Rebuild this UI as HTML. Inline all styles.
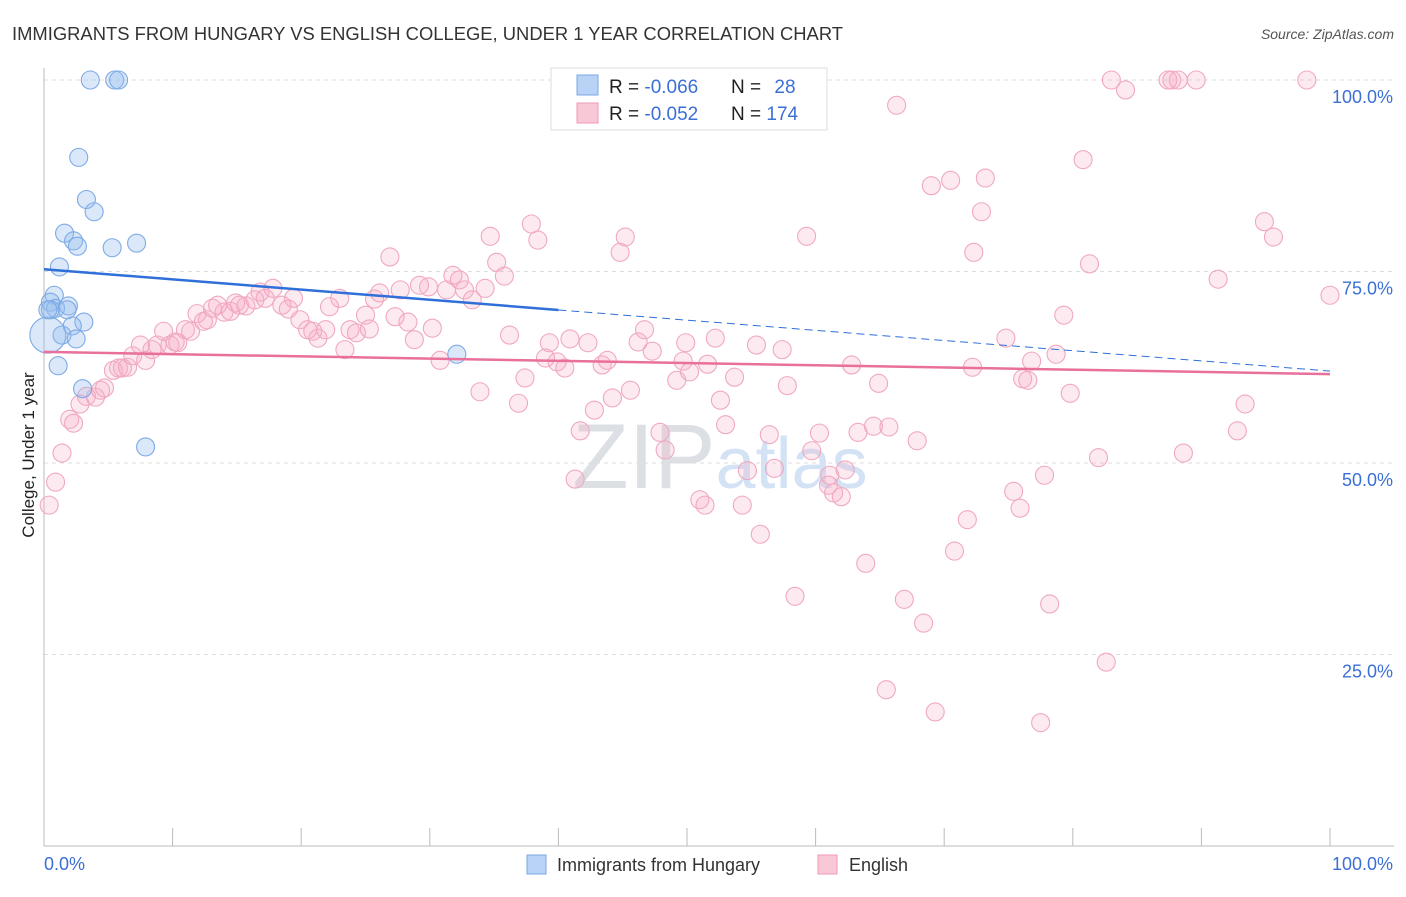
<!DOCTYPE html>
<html><head><meta charset="utf-8"><style>
body{margin:0;background:#fff;font-family:"Liberation Sans",sans-serif}
svg text{font-family:"Liberation Sans",sans-serif}
</style></head><body>
<svg id="chart" width="1406" height="892" xmlns="http://www.w3.org/2000/svg">
<text x="12" y="40" font-size="18" textLength="831" lengthAdjust="spacingAndGlyphs" fill="#333">IMMIGRANTS FROM HUNGARY VS ENGLISH COLLEGE, UNDER 1 YEAR CORRELATION CHART</text>
<text x="1394" y="39" font-size="14" fill="#555" text-anchor="end" font-style="italic">Source: ZipAtlas.com</text>
<text x="720" y="488" font-size="92" fill="#dfe3ea" text-anchor="middle" font-family="Liberation Serif"><tspan fill="#dcdfe4">ZIP</tspan><tspan font-family="Liberation Sans" font-size="72" fill="#d3e3f5">atlas</tspan></text>
<g id="grid"></g>
<g id="axes"></g>
<g id="pink"></g>
<g id="blue"></g>
<g id="trends"></g>
<text transform="translate(34,455) rotate(-90)" font-size="17" fill="#222" text-anchor="middle">College, Under 1 year</text>
<g>
<rect x="551" y="68" width="276" height="62" fill="#fff" stroke="#ddd"/>
<rect x="577" y="75" width="21" height="20" fill="#b8d3f5" stroke="#7aa8e6"/>
<rect x="577" y="103" width="21" height="20" fill="#f9c8d7" stroke="#ee9ab7"/>
<text x="609" y="93" font-size="19" fill="#222">R = <tspan fill="#3b6fd6">-0.066</tspan></text>
<text x="731" y="93" font-size="19" fill="#222">N = <tspan fill="#3b6fd6" dx="8">28</tspan></text>
<text x="609" y="120" font-size="19" fill="#222">R = <tspan fill="#3b6fd6">-0.052</tspan></text>
<text x="731" y="120" font-size="19" fill="#222">N = <tspan fill="#3b6fd6">174</tspan></text>
</g>
<g>
<rect x="527" y="855" width="19" height="19" fill="#b8d3f5" stroke="#7aa8e6"/>
<text x="557" y="871" font-size="18" fill="#333">Immigrants from Hungary</text>
<rect x="818" y="855" width="19" height="19" fill="#f9c8d7" stroke="#ee9ab7"/>
<text x="849" y="871" font-size="18" fill="#333">English</text>
</g>
</svg>
<script>
const blueX=[3.6,5.5,5.8,2.7,3.3,3.9,1.6,2.3,2.6,5.3,7.2,1.2,0.8,0.5,0.9,1.9,0.5,1.8,3.1,2.2,1.4,2.5,0.3,1.1,32.1,3.0,7.9,0.3];
const blueY=[100,100,100,89.9,84.4,82.8,80.0,79.0,78.3,78.1,78.7,75.6,71.9,71.0,70.2,70.5,70.0,70.0,68.4,67.9,66.7,66.2,66.7,62.7,64.2,59.7,52.1,70.0];
const pinkX=[0.4,0.9,1.4,2.0,2.3,2.8,3.3,4.0,4.4,4.7,5.4,5.8,6.1,6.5,6.9,7.5,7.9,8.4,8.8,9.3,9.8,10.2,10.4,11.0,11.4,11.9,12.4,12.7,13.1,13.5,14.0,14.5,14.9,15.2,15.7,16.4,16.8,17.2,17.8,18.5,19.0,19.4,19.9,20.5,20.9,21.3,21.9,22.2,23.0,23.4,23.8,24.3,25.0,25.3,25.7,26.1,26.9,27.3,27.7,28.3,28.8,29.2,29.9,30.2,30.8,31.3,31.8,32.3,32.7,33.3,33.9,34.3,34.7,35.2,35.8,36.2,36.9,37.4,37.9,38.4,39.0,39.3,39.9,40.5,40.9,41.3,41.7,42.3,42.8,43.4,43.8,44.2,44.8,45.2,45.6,46.2,46.7,47.3,47.9,48.3,49.2,49.7,49.9,50.2,51.0,51.4,51.6,52.2,52.6,53.0,53.7,54.3,54.7,55.4,55.7,56.4,56.8,57.4,57.8,58.4,59.3,59.7,60.3,61.0,61.1,61.4,62.0,62.3,62.8,63.3,63.9,64.5,64.9,65.5,65.7,66.3,66.9,67.9,68.4,69.0,69.3,70.5,70.8,71.8,72.2,72.3,72.9,73.2,74.8,75.4,75.9,76.1,76.5,76.8,77.8,78.2,78.7,79.3,79.8,80.8,81.3,82.0,82.6,83.0,84.1,87.4,87.7,88.2,89.6,88.6,91.3,92.8,93.4,94.9,95.6,98.2,100,77.5];
const pinkY=[44.5,47.5,51.3,55.7,55.2,57.7,58.7,58.6,59.5,59.8,62.1,62.4,62.4,62.5,64.0,65.4,63.4,64.8,65.4,67.2,65.4,65.8,65.7,67.4,67.2,69.5,68.5,68.7,70.2,70.6,69.7,69.8,70.9,70.6,70.5,71.3,72.3,71.5,72.8,70.6,70.1,71.5,68.7,67.4,67.2,66.3,67.4,70.4,71.5,64.8,67.4,67.0,69.3,67.5,71.4,72.2,76.9,69.1,72.6,68.4,66.1,73.2,73.0,67.6,63.4,72.6,74.5,73.9,72.6,71.3,59.3,72.8,79.6,76.2,74.4,66.7,57.8,61.1,81.2,79.1,63.7,65.7,63.2,62.4,66.2,47.9,54.2,65.7,56.9,62.8,63.4,58.5,77.5,79.5,59.5,65.8,67.4,64.6,54.0,51.7,60.8,63.3,65.7,61.9,45.2,44.5,62.9,66.3,58.2,55.0,61.2,44.5,49.0,65.4,40.7,53.7,49.3,64.8,60.1,32.6,79.6,51.6,53.9,47.1,48.4,46.1,45.6,49.1,62.8,54.0,36.9,54.8,60.4,20.4,54.7,96.7,32.2,52.9,29.1,86.2,17.5,86.9,38.5,42.6,62.5,77.5,82.8,87.2,66.3,46.3,44.1,61.0,60.8,63.3,48.4,31.6,64.2,69.3,59.1,89.6,76.0,50.7,24.0,100,98.7,100,100,100,100,51.3,74.0,54.2,57.7,81.5,79.5,100,71.9,16.1];
const yTicks=[25,50,75,100];
const yTickLabels=["25.0%","50.0%","75.0%","100.0%"];
const blueTrend=[75.3,62.0];
const pinkTrend=[64.5,61.6];
const blueSolidEnd=40;
const NS="http://www.w3.org/2000/svg";
const X0=44,X1=1330,Y0=846,Y100=80;
const sx=v=>X0+(X1-X0)*v/100;
const sy=v=>Y0-(Y0-Y100)*v/100;
function mk(tag,attrs,parent){const e=document.createElementNS(NS,tag);for(const k in attrs)e.setAttribute(k,attrs[k]);parent.appendChild(e);return e;}
const grid=document.getElementById('grid'),axes=document.getElementById('axes');
yTicks.forEach((t,i)=>{
  const l=mk('line',{x1:X0,x2:1394,y1:sy(t),y2:sy(t),stroke:'#ddd','stroke-dasharray':'4,4'},grid);
  
  
  const tx=mk('text',{x:1393,y:sy(t)+23,'font-size':18,fill:'#3b6fd6','text-anchor':'end'},axes);
  tx.textContent=yTickLabels[i];
  
  
});
const ax=mk('line',{x1:X0,x2:X0,y1:68,y2:Y0,stroke:'#bbb'},axes);


const bx=mk('line',{x1:X0,x2:X1+64,y1:Y0,y2:Y0,stroke:'#bbb'},axes);


for(let i=0;i<=10;i++){
  const tk=mk('line',{x1:sx(i*10),x2:sx(i*10),y1:828,y2:Y0,stroke:'#bbb'},axes);
  
  
}
const xl=mk('text',{x:44,y:870,'font-size':18,fill:'#3b6fd6'},axes);xl.textContent='0.0%';


const xr=mk('text',{x:1393,y:870,'font-size':18,fill:'#3b6fd6','text-anchor':'end'},axes);xr.textContent='100.0%';


const pg=document.getElementById('pink');
pinkX.forEach((v,i)=>{
  const c=mk('circle',{cx:sx(v),cy:sy(pinkY[i]),r:9,fill:'rgba(246,170,196,0.25)',stroke:'#f0a8c0','stroke-width':1.1},pg);
  
  
});
const bg=document.getElementById('blue');
blueX.forEach((v,i)=>{
  const c=mk('circle',{cx:sx(v),cy:sy(blueY[i]),r:i==22?18:9,fill:'rgba(150,188,238,0.35)',stroke:'#7eaae6','stroke-width':1.1},bg);
  
  
});
const tg=document.getElementById('trends');
const by=x=>blueTrend[0]+(blueTrend[1]-blueTrend[0])*x/100;
const b1=mk('line',{x1:sx(0),y1:sy(by(0)),x2:sx(blueSolidEnd),y2:sy(by(blueSolidEnd)),stroke:'#2f6fd8','stroke-width':2.5},tg);


const b2=mk('line',{x1:sx(blueSolidEnd),y1:sy(by(blueSolidEnd)),x2:sx(100),y2:sy(by(100)),stroke:'#2f6fd8','stroke-width':1,'stroke-dasharray':'8,5'},tg);


const p1=mk('line',{x1:sx(0),y1:sy(pinkTrend[0]),x2:sx(100),y2:sy(pinkTrend[1]),stroke:'#e8709a','stroke-width':2.5},tg);


</script>
</body></html>
